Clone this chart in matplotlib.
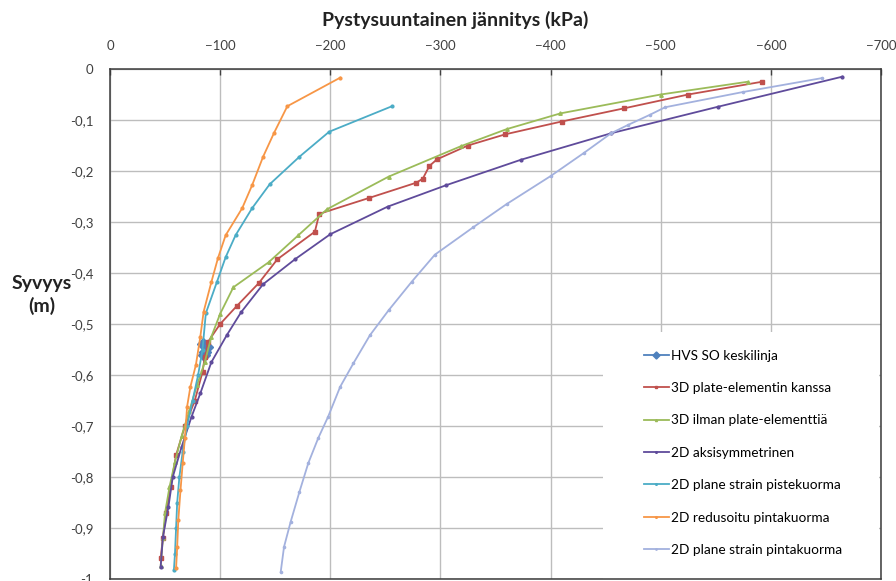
import numpy as np
import matplotlib
matplotlib.use('Agg')
import matplotlib.pyplot as plt
from matplotlib.patches import Rectangle
from matplotlib.ticker import FuncFormatter

plt.rcParams['font.family'] = ['Lato', 'DejaVu Sans']

# --- data (kPa, m) ---
hvs_x = [-84, -88, -86, -85]
hvs_y = [-0.54, -0.545, -0.555, -0.56]

plate_x = [-592, -525, -467, -410, -359, -325, -297, -290, -284, -278, -235, -190, -186,
           -152, -135, -115, -100, -89, -86, -84, -77, -68, -60, -55, -51, -48, -46]
plate_y = [-0.025, -0.05, -0.077, -0.103, -0.128, -0.150, -0.177, -0.19, -0.215, -0.223,
           -0.253, -0.284, -0.319, -0.373, -0.42, -0.465, -0.50, -0.535, -0.565, -0.594,
           -0.65, -0.70, -0.757, -0.82, -0.87, -0.92, -0.959]

noplate_x = [-579, -500, -409, -360, -319, -253, -197, -171, -144, -112, -100, -92, -86,
             -79, -72, -65, -59, -54, -50, -48, -46]
noplate_y = [-0.025, -0.05, -0.087, -0.118, -0.151, -0.211, -0.275, -0.326, -0.379, -0.428,
             -0.48, -0.525, -0.575, -0.62, -0.67, -0.72, -0.77, -0.82, -0.87, -0.92, -0.975]

axi_x = [-665, -552, -455, -373, -305, -252, -200, -168, -139, -119, -106, -92, -82, -74,
         -65, -57, -53, -48, -46]
axi_y = [-0.015, -0.074, -0.126, -0.178, -0.228, -0.27, -0.324, -0.373, -0.422, -0.477,
         -0.522, -0.575, -0.636, -0.682, -0.741, -0.80, -0.859, -0.918, -0.976]

piste_x = [-256, -199, -172, -145, -129, -114, -105, -97, -87, -84, -80, -75, -70, -66,
           -63, -61, -60, -59, -58]
piste_y = [-0.073, -0.123, -0.172, -0.226, -0.273, -0.326, -0.369, -0.418, -0.479, -0.55,
           -0.6, -0.65, -0.7, -0.75, -0.8, -0.85, -0.9, -0.95, -0.983]

red_x = [-209, -161, -149, -139, -129, -120, -105, -98, -92, -85, -82, -78, -73, -70,
         -68, -66, -64, -62, -61, -60]
red_y = [-0.017, -0.073, -0.125, -0.172, -0.228, -0.273, -0.326, -0.371, -0.418, -0.476,
         -0.525, -0.58, -0.623, -0.662, -0.724, -0.773, -0.826, -0.885, -0.937, -0.979]

pinta_x = [-646, -575, -504, -490, -470, -455, -430, -400, -360, -330, -295, -274, -253,
           -236, -221, -209, -198, -189, -180, -172, -164, -158, -155]
pinta_y = [-0.018, -0.045, -0.075, -0.09, -0.11, -0.126, -0.165, -0.21, -0.265, -0.31,
           -0.364, -0.417, -0.473, -0.522, -0.577, -0.623, -0.682, -0.724, -0.773, -0.829,
           -0.888, -0.937, -0.986]

labels = ['HVS SO keskilinja', '3D plate-elementin kanssa', '3D ilman plate-elementtiä',
          '2D aksisymmetrinen', '2D plane strain pistekuorma', '2D redusoitu pintakuorma',
          '2D plane strain pintakuorma']
xticks = [0, -100, -200, -300, -400, -500, -600, -700]
yticks = [0, -0.1, -0.2, -0.3, -0.4, -0.5, -0.6, -0.7, -0.8, -0.9, -1.0]

series = [(hvs_x, hvs_y, '#4F81BD', 'D', 6),
          (plate_x, plate_y, '#C0504D', 's', 3),
          (noplate_x, noplate_y, '#9BBB59', '^', 2.5),
          (axi_x, axi_y, '#5F4B9B', 'o', 2),
          (piste_x, piste_y, '#4BACC6', 'o', 2),
          (red_x, red_y, '#F79646', 'o', 2),
          (pinta_x, pinta_y, '#A3B1DE', 'o', 1.6)]

fig = plt.figure(figsize=(8.96, 5.81), dpi=100)
ax = fig.add_axes([110/896, 1-579/581, 771/896, 510/581])

for (xs, ys, col, mk, ms), lab in zip(series, labels):
    ax.plot(xs, ys, color=col, lw=1.3, marker=mk, ms=ms, mec=col, mfc=col, label=lab, zorder=3)

ax.set_xlim(0, -700)
ax.set_ylim(-1, 0)
ax.set_xticks(xticks)
ax.set_yticks(yticks)
ax.xaxis.tick_top()
ax.yaxis.set_major_formatter(FuncFormatter(lambda v, p: ('%g' % round(v, 1)).replace('.', ',')))
ax.tick_params(axis='x', direction='in', length=4, width=1, pad=12, labelsize=9.5, colors='#404040')
ax.tick_params(axis='y', length=0, pad=12, labelsize=9.5, colors='#404040')
ax.grid(True, color='#BDBDBD', lw=1)
ax.set_axisbelow(True)
for s in ax.spines.values():
    s.set_color('#3a3a3a')
    s.set_linewidth(1.1)

# white legend area covering the grid
ax.add_patch(Rectangle((0.639, 0), 0.358, 0.484, transform=ax.transAxes,
                       facecolor='white', edgecolor='none', zorder=1))
ax.legend(loc='upper left', bbox_to_anchor=(0.692, 0.450), frameon=False,
          fontsize=9.8, labelspacing=1.5, handlelength=1.9, handletextpad=0.15,
          borderpad=0, borderaxespad=0, markerscale=0.6)

fig.text(0.508, 0.965, 'Pystysuuntainen jännitys (kPa)', ha='center', va='center',
         fontsize=14, fontweight='bold', color='#222222')
fig.text(0.047, 0.492, 'Syvyys\n(m)', ha='center', va='center', fontsize=14,
         fontweight='bold', color='#222222', linespacing=1.3)

fig.savefig('out.png', dpi=100)
